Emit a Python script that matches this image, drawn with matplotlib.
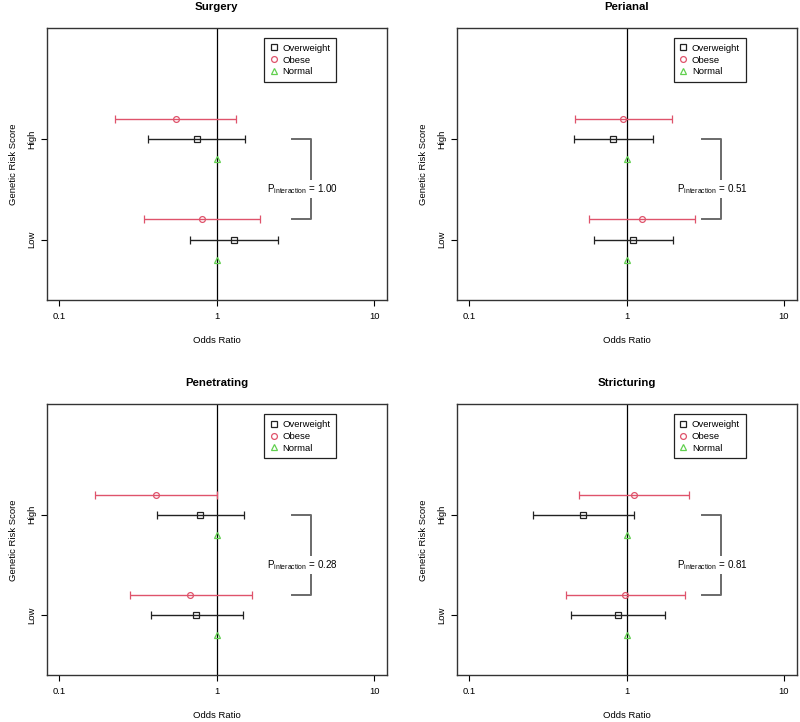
import matplotlib
matplotlib.use("Agg")
import matplotlib.pyplot as plt
from matplotlib.lines import Line2D
import numpy as np

plt.rcParams["font.family"] = ["Liberation Sans", "DejaVu Sans"]
plt.rcParams["mathtext.fontset"] = "custom"
plt.rcParams["mathtext.rm"] = "Liberation Sans"
plt.rcParams["mathtext.it"] = "Liberation Sans:italic"

# ---- Data (odds ratios with 95% CI), order: [Low, High] ----
titles = ["Surgery", "Perianal", "Penetrating", "Stricturing"]
p_values = ["1.00", "0.51", "0.28", "0.81"]
risk_levels = ["Low", "High"]
groups = ["Overweight", "Obese", "Normal"]

overweight_or = [[1.29, 0.75], [1.10, 0.82], [0.74, 0.78], [0.88, 0.53]]
overweight_lo = [[0.674, 0.368], [0.617, 0.46], [0.38, 0.42], [0.445, 0.254]]
overweight_hi = [[2.46, 1.52], [1.96, 1.47], [1.47, 1.48], [1.75, 1.11]]

obese_or = [[0.81, 0.55], [1.25, 0.95], [0.68, 0.41], [0.98, 1.12]]
obese_lo = [[0.347, 0.227], [0.58, 0.467], [0.28, 0.169], [0.41, 0.50]]
obese_hi = [[1.89, 1.33], [2.72, 1.93], [1.68, 1.00], [2.34, 2.49]]

normal_or = [[1.0, 1.0], [1.0, 1.0], [1.0, 1.0], [1.0, 1.0]]

BLACK = "#222222"
RED = "#DF536B"
GREEN = "#61D04F"

fig = plt.figure(figsize=(8, 7.22), dpi=100)
W, H = 800, 722
boxes = [(46.7, 28, 386.7, 300), (456.7, 28, 796.5, 300),
         (46.7, 404.3, 386.7, 675.3), (456.7, 404.3, 796.5, 675.3)]

ypos = np.array([1, 2])
fs = 6.8

for i, (x0, y0, x1, y1) in enumerate(boxes):
    ax = fig.add_axes([x0 / W, 1 - y1 / H, (x1 - x0) / W, (y1 - y0) / H])
    ax.set_xscale("log")
    ax.set_xlim(10 ** -1.08, 10 ** 1.08)
    ax.set_ylim(0.4, 3.1)

    ax.axvline(1, color="black", lw=0.9, zorder=1)

    ow = np.array(overweight_or[i])
    ax.errorbar(ow, ypos, xerr=[ow - np.array(overweight_lo[i]), np.array(overweight_hi[i]) - ow],
                fmt="s", mfc="none", mec=BLACK, ecolor=BLACK, ms=4.2, mew=0.9,
                elinewidth=1.0, capsize=2.6, capthick=1.0, zorder=3)
    ob = np.array(obese_or[i])
    ax.errorbar(ob, ypos + 0.2, xerr=[ob - np.array(obese_lo[i]), np.array(obese_hi[i]) - ob],
                fmt="o", mfc="none", mec=RED, ecolor=RED, ms=4.2, mew=0.9,
                elinewidth=1.0, capsize=2.6, capthick=1.0, zorder=3)
    ax.plot(normal_or[i], ypos - 0.2, "^", mfc="none", mec=GREEN, ms=5, mew=0.9,
            linestyle="none", zorder=3)

    # interaction bracket
    ax.plot([3, 4, 4, 3], [2, 2, 1.2, 1.2], color="#6a6a6a", lw=1.4, zorder=2)
    ax.text(3.5, 1.5, r"$\mathrm{P}_{\mathrm{interaction}}$ = " + p_values[i],
            ha="center", va="center", fontsize=fs + 0.3, zorder=4,
            bbox=dict(facecolor="white", edgecolor="none", pad=1.5))

    ax.set_xticks([0.1, 1, 10])
    ax.set_xticklabels(["0.1", "1", "10"])
    ax.minorticks_off()
    ax.set_yticks(ypos)
    ax.set_yticklabels(risk_levels, rotation=90, va="center")
    ax.tick_params(length=4, width=0.8, pad=4.5, labelsize=fs, colors="black")
    ax.tick_params(axis="y", pad=3.5)
    for s in ax.spines.values():
        s.set_linewidth(1.0)
        s.set_color("#333333")

    ax.set_xlabel("Odds Ratio", fontsize=fs, labelpad=11)
    ax.set_ylabel("Genetic Risk Score", fontsize=fs, labelpad=7)
    ax.set_title(titles[i], fontsize=8.2, fontweight="bold", pad=13)

    handles = [
        Line2D([], [], marker="s", mfc="none", mec=BLACK, ms=4.2, mew=0.9, linestyle="none"),
        Line2D([], [], marker="o", mfc="none", mec=RED, ms=4.2, mew=0.9, linestyle="none"),
        Line2D([], [], marker="^", mfc="none", mec=GREEN, ms=5, mew=0.9, linestyle="none"),
    ]
    leg = ax.legend(handles, groups, loc="upper left", bbox_to_anchor=(2, 3),
                    bbox_transform=ax.transData, borderaxespad=0, fancybox=False,
                    edgecolor="#222222", framealpha=1, fontsize=fs, handlelength=0.8,
                    handletextpad=0.5, labelspacing=0.3, borderpad=0.6)
    leg.get_frame().set_linewidth(0.9)

fig.savefig("out.png", dpi=100)
